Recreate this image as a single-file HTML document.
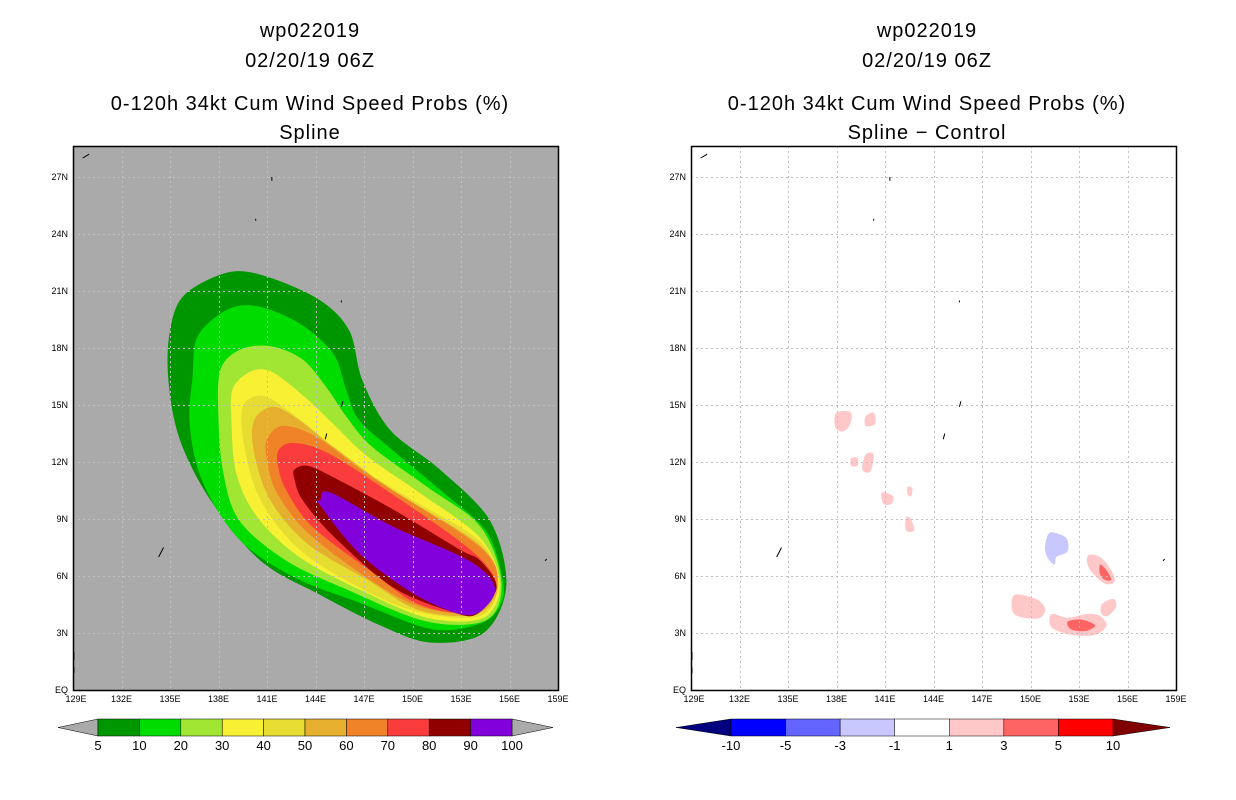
<!DOCTYPE html>
<html><head><meta charset="utf-8">
<style>
html,body{margin:0;padding:0;background:#fff;}
svg{display:block;font-family:"Liberation Sans",sans-serif;}
</style></head>
<body>
<svg id="root" width="1236" height="800" viewBox="0 0 1236 800" xmlns="http://www.w3.org/2000/svg">
<g font-size="20" text-anchor="middle" fill="#000" letter-spacing="1">
<text x="310" y="37">wp022019</text>
<text x="310" y="67">02/20/19 06Z</text>
<text x="310" y="110">0-120h 34kt Cum Wind Speed Probs (%)</text>
<text x="310" y="139">Spline</text>
</g>
<g font-size="20" text-anchor="middle" fill="#000" letter-spacing="1">
<text x="927" y="37">wp022019</text>
<text x="927" y="67">02/20/19 06Z</text>
<text x="927" y="110">0-120h 34kt Cum Wind Speed Probs (%)</text>
<text x="927" y="139">Spline − Control</text>
</g>
<g id="leftMap"></g>
<g id="rightMap"></g>
<g id="leftBar"></g>
<g id="rightBar"></g>
</svg>
<script>
// ---- data ----
const lonTicks = [129,132,135,138,141,144,147,150,153,156,159];
const latTicks = [0,3,6,9,12,15,18,21,24,27];
const latTickLabels = ["EQ","3N","6N","9N","12N","15N","18N","21N","24N","27N"];
const probLevels = [5,10,20,30,40,50,60,70,80,90];
const probColors = ["#009600","#00dc00","#a0e632","#f8f032","#e6dc32","#e6af2d","#f08228","#fa3c3c","#900000","#8200dc"];
const probBarLabels = ["5","10","20","30","40","50","60","70","80","90","100"];
const diffColors = ["#0000ff","#6464ff","#c8c8ff","#ffffff","#ffc8c8","#ff6464","#ff0000"];
const diffBarLabels = ["-10","-5","-3","-1","1","3","5","10"];
// contour polygons [lon,lat]
const probContours = [
 [[135.0,18.9],[135.9,20.8],[138.7,22.0],[141.2,21.7],[144.3,20.5],[146.1,18.9],[146.9,16.3],[148.6,13.7],[151.7,11.6],[154.8,8.9],[155.8,5.5],[154.4,3.0],[151.1,2.5],[148.0,3.4],[144.3,5.0],[140.6,6.8],[137.5,10.0],[135.6,13.2],[134.9,16.3]],
 [[136.7,18.6],[138.5,20.0],[140.4,20.2],[143.0,19.3],[145.1,17.7],[145.9,15.8],[146.7,14.2],[148.8,12.6],[151.9,10.4],[154.6,8.3],[155.6,5.7],[155.4,4.4],[154.2,3.5],[151.2,3.2],[146.7,4.6],[143.0,5.8],[139.8,7.5],[137.9,9.5],[136.7,11.7],[136.2,14.2],[136.4,16.5]],
 [[138.1,16.8],[139.3,17.9],[141.2,18.1],[143.2,17.4],[144.7,15.9],[145.9,14.4],[147.5,12.8],[150.9,10.7],[154.2,8.6],[155.5,5.7],[154.6,3.7],[150.9,3.6],[145.9,5.3],[142.2,6.8],[139.3,8.9],[138.3,11.4],[138.0,14.2]],
 [[138.9,15.9],[140.1,16.8],[141.4,16.7],[143.5,15.3],[145.1,14.0],[147.2,12.3],[150.4,10.4],[154.2,8.0],[155.4,5.6],[154.4,3.8],[150.9,3.8],[146.7,5.3],[143.0,7.0],[140.4,9.1],[139.1,11.4],[138.8,14.2]],
 [[139.5,14.9],[140.6,15.5],[142.0,14.9],[144.1,13.5],[145.9,12.1],[150.0,10.0],[154.2,7.8],[155.3,5.6],[154.2,3.9],[150.4,4.1],[146.7,5.4],[143.0,7.4],[140.6,10.0],[139.6,12.8]],
 [[140.2,14.2],[141.4,14.9],[143.0,14.2],[145.1,12.8],[148.8,10.5],[154.2,7.6],[155.3,5.5],[154.0,4.0],[150.4,4.2],[147.2,5.8],[143.5,7.7],[141.2,10.0],[140.2,12.5]],
 [[141.0,13.2],[142.0,13.9],[144.1,13.3],[147.5,11.2],[154.2,7.5],[155.2,5.5],[153.8,4.1],[150.4,4.4],[147.2,5.9],[143.5,8.3],[141.6,10.4],[141.0,12.1]],
 [[141.7,12.6],[142.6,13.0],[144.7,12.5],[148.4,10.5],[153.7,7.3],[155.2,5.4],[153.6,4.1],[150.4,4.5],[147.5,6.2],[143.8,8.6],[142.2,10.5],[141.7,11.7]],
 [[142.7,11.6],[143.5,11.8],[145.1,11.2],[148.8,9.5],[152.9,7.4],[154.2,6.8],[155.2,5.4],[154.0,4.0],[152.5,4.1],[148.8,5.4],[145.1,8.1],[143.2,10.0],[142.7,11.1]],
 [[144.3,10.0],[144.9,10.4],[148.8,8.6],[153.5,6.8],[155.1,5.4],[154.3,4.2],[152.9,4.0],[150.0,5.1],[146.7,7.2],[144.3,9.7]]
];
const diffBlobColorIdx = [4,4,4,4,4,4,4,4,2,4,5,4,5,4];
const diffBlobs = [
 [[138.0,14.6],[138.9,14.6],[138.8,13.9],[138.3,13.6],[137.9,13.9]],
 [[139.8,14.4],[140.3,14.6],[140.4,14.0],[139.8,13.9]],
 [[138.9,12.2],[139.3,12.2],[139.3,11.8],[138.9,11.8]],
 [[139.8,12.4],[140.3,12.4],[140.1,11.5],[139.6,11.6]],
 [[140.8,10.4],[141.5,10.2],[141.4,9.8],[140.9,9.8]],
 [[142.4,10.7],[142.7,10.6],[142.6,10.2],[142.4,10.3]],
 [[142.3,9.1],[142.6,9.0],[142.8,8.4],[142.3,8.4]],
 [[149.0,5.0],[150.3,4.8],[150.9,4.3],[150.6,3.8],[149.6,3.8],[148.9,4.1]],
 [[151.0,8.0],[151.3,8.3],[152.2,8.0],[152.3,7.3],[151.6,7.0],[151.5,6.6],[151.1,6.9],[150.9,7.4]],
 [[153.6,7.1],[154.3,7.0],[155.0,6.3],[155.2,5.7],[154.6,5.6],[153.8,6.2],[153.5,6.7]],
 [[154.3,6.6],[154.7,6.3],[155.0,5.8],[154.6,5.8],[154.3,6.1]],
 [[151.3,4.0],[152.3,3.8],[153.5,4.0],[154.3,3.9],[154.7,3.4],[154.0,2.9],[152.5,2.9],[151.3,3.3]],
 [[152.3,3.6],[153.2,3.7],[154.0,3.4],[153.4,3.1],[152.5,3.2]],
 [[154.4,4.5],[155.1,4.8],[155.3,4.4],[154.8,3.9],[154.4,4.0]]
];
// ---- rendering ----
const NS="http://www.w3.org/2000/svg";
const mapTop=146, mapBottom=690, mapW=485;
const pxPerLon=mapW/30, pxPerLat=19;
function xOf(x0,lon){return x0+(lon-129)*pxPerLon;}
function yOf(lat){return mapBottom-lat*pxPerLat;}
function mk(tag,attrs,parent){const e=document.createElementNS(NS,tag);for(const k in attrs)e.setAttribute(k,attrs[k]);parent.appendChild(e);return e;}
function smoothPath(x0,pts){
 const P=pts.map(p=>[xOf(x0,p[0]),yOf(p[1])]);const n=P.length;
 let d="M"+P[0][0].toFixed(1)+","+P[0][1].toFixed(1);
 for(let i=0;i<n;i++){
  const p0=P[(i-1+n)%n],p1=P[i],p2=P[(i+1)%n],p3=P[(i+2)%n];
  const t=0.16;
  const c1=[p1[0]+(p2[0]-p0[0])*t,p1[1]+(p2[1]-p0[1])*t];
  const c2=[p2[0]-(p3[0]-p1[0])*t,p2[1]-(p3[1]-p1[1])*t];
  d+=" C"+c1[0].toFixed(1)+","+c1[1].toFixed(1)+" "+c2[0].toFixed(1)+","+c2[1].toFixed(1)+" "+p2[0].toFixed(1)+","+p2[1].toFixed(1);
 }
 return d+"Z";
}

function drawMap(gid,x0,bg,side){
 const g=document.getElementById(gid);
 const clip=mk("clipPath",{id:"clip"+side},g);
 mk("rect",{x:x0,y:mapTop,width:mapW,height:mapBottom-mapTop},clip);
 const bgR=mk("rect",{x:x0,y:mapTop,width:mapW,height:mapBottom-mapTop,fill:bg},g);
 
 
 const cg=mk("g",{"clip-path":"url(#clip"+side+")"},g);
 
 
 if(side==="left"){
  probContours.forEach((pts,i)=>{
   const p=mk("path",{d:smoothPath(x0,pts),fill:probColors[i]},cg);
   
   
  });
 } else {
  diffBlobs.forEach((pts,i)=>{
   const p=mk("path",{d:smoothPath(x0,pts),fill:diffColors[diffBlobColorIdx[i]]},cg);
   
   
  });
 }
 const gg=mk("g",{stroke:"#c0c0c0","stroke-width":1,"stroke-dasharray":"2,3"},g);
 
 
 lonTicks.slice(1,-1).forEach(l=>{const x=Math.round(xOf(x0,l))+0.5;mk("line",{x1:x,x2:x,y1:mapTop,y2:mapBottom},gg);});
 latTicks.slice(1).forEach(l=>{const y=Math.round(yOf(l))+0.5;mk("line",{x1:x0,x2:x0+mapW,y1:y,y2:y},gg);});
 const ig=mk("g",{fill:"none",stroke:"#000","stroke-width":1},g);
 
 
 [[134.6,7.5,134.3,7.0],[144.7,13.5,144.6,13.2],[145.7,15.2,145.6,14.9],[158.3,6.9,158.2,6.8],[130.0,28.2,129.6,28.0],[141.3,27.0,141.3,26.8],[140.3,24.8,140.3,24.7],[145.6,20.5,145.6,20.4]].forEach(c=>{
  mk("line",{x1:xOf(x0,c[0]),y1:yOf(c[1]),x2:xOf(x0,c[2]),y2:yOf(c[3])},ig);
 });
 mk("path",{d:`M${x0+1} ${yOf(2)} v8 M${x0+1} ${yOf(1.2)} v6`},ig);
 const fr=mk("rect",{x:x0+0.5,y:mapTop+0.5,width:mapW,height:mapBottom-mapTop,fill:"none",stroke:"#000","stroke-width":1.5},g);
 
 
 const tg=mk("g",{"font-size":9,fill:"#000"},g);
 
 
 latTicks.forEach((l,i)=>{const t=mk("text",{x:x0-5,y:yOf(l)+3,"text-anchor":"end"},tg);t.textContent=latTickLabels[i];
  });
 lonTicks.forEach(l=>{const t=mk("text",{x:xOf(x0,l)+ (l===129?3:0),y:mapBottom+12,"text-anchor":"middle"},tg);t.textContent=l+"E";
  });
}
drawMap("leftMap",73,"#aaaaaa","left");
drawMap("rightMap",691,"#ffffff","right");

function drawBar(gid,x0,x1,colors,labels,leftTri,rightTri){
 const g=document.getElementById(gid);
 const y0=719,y1=736,ym=727.5;
 const n=colors.length; const w=(x1-x0)/n;
 const lt=mk("polygon",{points:`${x0-leftTri.w},${ym} ${x0},${y0} ${x0},${y1}`,fill:leftTri.c,stroke:"#000","stroke-width":0.5},g);
 
 const rt=mk("polygon",{points:`${x1+rightTri.w},${ym} ${x1},${y0} ${x1},${y1}`,fill:rightTri.c,stroke:"#000","stroke-width":0.5},g);
 
 colors.forEach((c,i)=>{const r=mk("rect",{x:x0+i*w,y:y0,width:w,height:y1-y0,fill:c,stroke:"#000","stroke-width":0.5},g);
  });
 labels.forEach((s,i)=>{const t=mk("text",{x:x0+i*w,y:750,"text-anchor":"middle","font-size":13,fill:"#000"},g);t.textContent=s;
  });
}
drawBar("leftBar",98,512,probColors,probBarLabels,{w:40,c:"#aaaaaa"},{w:41,c:"#aaaaaa"});
drawBar("rightBar",731,1113,diffColors,diffBarLabels,{w:55,c:"#000080"},{w:57,c:"#800000"});
</script>
</body></html>
